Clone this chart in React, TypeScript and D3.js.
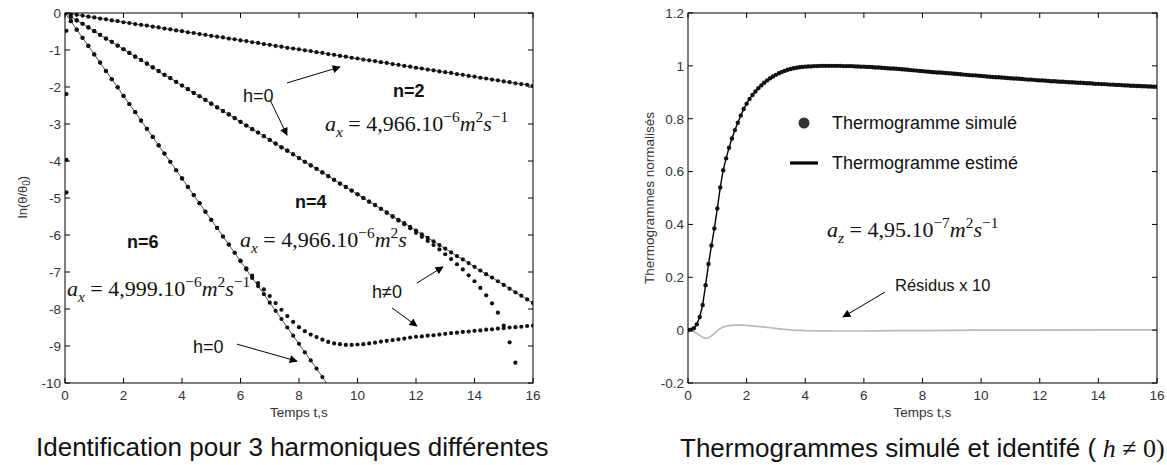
import React from 'react';
import * as d3 from 'd3';

// ---------- data ----------
const xTicks = [0, 2, 4, 6, 8, 10, 12, 14, 16];
const leftYTicks = [0, -1, -2, -3, -4, -5, -6, -7, -8, -9, -10];
const rightYTicks = [-0.2, 0, 0.2, 0.4, 0.6, 0.8, 1, 1.2];
const rightYTickLabels = ['-0.2', '0', '0.2', '0.4', '0.6', '0.8', '1', '1.2'];

// left chart sampling grid (s)
const leftTime = d3.range(0, 81).map((i) => i * 0.2);

// n=2, h=0
const n2h0 = [
  0, -0.02, -0.05, -0.07, -0.1, -0.12, -0.15, -0.17, -0.2, -0.22,
  -0.25, -0.27, -0.3, -0.32, -0.34, -0.37, -0.39, -0.42, -0.44, -0.47,
  -0.49, -0.52, -0.54, -0.57, -0.59, -0.62, -0.64, -0.66, -0.69, -0.71,
  -0.74, -0.76, -0.79, -0.81, -0.84, -0.86, -0.89, -0.91, -0.94, -0.96,
  -0.98, -1.01, -1.03, -1.06, -1.08, -1.11, -1.13, -1.16, -1.18, -1.21,
  -1.23, -1.26, -1.28, -1.3, -1.33, -1.35, -1.38, -1.4, -1.43, -1.45,
  -1.48, -1.5, -1.53, -1.55, -1.58, -1.6, -1.62, -1.65, -1.67, -1.7,
  -1.72, -1.75, -1.77, -1.8, -1.82, -1.85, -1.87, -1.9, -1.92, -1.94,
  -1.97,
];
// n=4, h=0
const n4h0 = [
  0, -0.1, -0.2, -0.29, -0.39, -0.49, -0.59, -0.69, -0.78, -0.88,
  -0.98, -1.08, -1.18, -1.27, -1.37, -1.47, -1.57, -1.67, -1.76, -1.86,
  -1.96, -2.06, -2.16, -2.25, -2.35, -2.45, -2.55, -2.65, -2.74, -2.84,
  -2.94, -3.04, -3.14, -3.23, -3.33, -3.43, -3.53, -3.63, -3.72, -3.82,
  -3.92, -4.02, -4.12, -4.21, -4.31, -4.41, -4.51, -4.61, -4.7, -4.8,
  -4.9, -5.0, -5.1, -5.19, -5.29, -5.39, -5.49, -5.59, -5.68, -5.78,
  -5.88, -5.98, -6.08, -6.17, -6.27, -6.37, -6.47, -6.57, -6.66, -6.76,
  -6.86, -6.96, -7.06, -7.15, -7.25, -7.35, -7.45, -7.55, -7.64, -7.74,
  -7.84,
];
// n=4, h≠0 (ends at 15.4 s)
const n4hN = [
  0, -0.1, -0.2, -0.29, -0.39, -0.49, -0.59, -0.69, -0.78, -0.88,
  -0.98, -1.08, -1.18, -1.27, -1.37, -1.47, -1.57, -1.67, -1.76, -1.86,
  -1.96, -2.06, -2.16, -2.25, -2.35, -2.45, -2.55, -2.65, -2.74, -2.84,
  -2.94, -3.04, -3.14, -3.23, -3.33, -3.43, -3.53, -3.63, -3.72, -3.82,
  -3.92, -4.02, -4.12, -4.21, -4.31, -4.41, -4.51, -4.61, -4.7, -4.8,
  -4.9, -5.0, -5.1, -5.19, -5.29,
  -5.4, -5.51, -5.61, -5.71, -5.82, -5.94, -6.05, -6.16, -6.27, -6.39,
  -6.52, -6.65, -6.79, -6.93, -7.09, -7.25, -7.43, -7.63, -7.85, -8.1,
  -8.45, -8.9, -9.45,
];
// n=6, h=0 (leaves the frame near 9 s)
const n6h0 = [
  0, -0.22, -0.45, -0.67, -0.89, -1.12, -1.34, -1.57, -1.79, -2.01,
  -2.24, -2.46, -2.68, -2.91, -3.13, -3.35, -3.58, -3.8, -4.02, -4.25,
  -4.47, -4.7, -4.92, -5.14, -5.37, -5.59, -5.81, -6.04, -6.26, -6.48,
  -6.71, -6.93, -7.16, -7.38, -7.6, -7.83, -8.05, -8.27, -8.5, -8.72,
  -8.94, -9.17, -9.39, -9.61, -9.84, -10.06,
];
// n=6, h≠0
const n6hN = [
  0, -0.22, -0.45, -0.67, -0.89, -1.12, -1.34, -1.57, -1.79, -2.01,
  -2.24, -2.46, -2.68, -2.91, -3.13, -3.35, -3.58, -3.8, -4.02, -4.25,
  -4.47, -4.7, -4.92, -5.14, -5.37, -5.59, -5.81, -6.04, -6.26, -6.48,
  -6.69, -6.9, -7.1, -7.3, -7.47, -7.65, -7.84, -8.02, -8.19, -8.35,
  -8.49, -8.6, -8.69, -8.76, -8.83, -8.89, -8.93, -8.95, -8.97, -8.97,
  -8.96, -8.95, -8.93, -8.91, -8.88, -8.86, -8.84, -8.82, -8.8, -8.77,
  -8.75, -8.74, -8.72, -8.71, -8.69, -8.67, -8.65, -8.64, -8.62, -8.61,
  -8.59, -8.58, -8.56, -8.55, -8.53, -8.52, -8.5, -8.49, -8.48, -8.46,
  -8.45,
];
// isolated first samples on the t=0 edge
const startTime = 0.05;
const startValues = [-0.48, -2.19, -3.97, -4.85];

// right chart sampling grid (s)
const simTime = d3.range(0, 161).map((i) => i * 0.1);
const simulated = [
  0, 0.002, 0.007, 0.022, 0.05, 0.095, 0.17, 0.25, 0.32, 0.385,
  0.46, 0.54, 0.605, 0.65, 0.69, 0.725, 0.757, 0.785, 0.812, 0.837,
  0.857, 0.875, 0.89, 0.903, 0.915, 0.926, 0.936, 0.945, 0.953, 0.96,
  0.966, 0.972, 0.977, 0.981, 0.985, 0.988, 0.991, 0.993, 0.995, 0.996,
  0.997, 0.998, 0.998, 0.999, 0.999, 1.0, 1.0, 1.0, 1.0, 1.0,
  1.0, 1.0, 1.0, 0.999, 0.999, 0.999, 0.999, 0.998, 0.998, 0.997,
  0.997, 0.996, 0.996, 0.995, 0.994, 0.994, 0.993, 0.992, 0.991, 0.99,
  0.99, 0.989, 0.988, 0.987, 0.986, 0.985, 0.984, 0.983, 0.982, 0.981,
  0.98, 0.979, 0.978, 0.977, 0.976, 0.975, 0.975, 0.974, 0.973, 0.972,
  0.971, 0.97, 0.969, 0.968, 0.967, 0.966, 0.965, 0.964, 0.964, 0.963,
  0.962, 0.961, 0.96, 0.959, 0.958, 0.957, 0.957, 0.956, 0.955, 0.954,
  0.953, 0.952, 0.952, 0.951, 0.95, 0.949, 0.948, 0.948, 0.947, 0.946,
  0.945, 0.945, 0.944, 0.943, 0.942, 0.942, 0.941, 0.94, 0.94, 0.939,
  0.938, 0.938, 0.937, 0.936, 0.936, 0.935, 0.934, 0.934, 0.933, 0.932,
  0.932, 0.931, 0.931, 0.93, 0.929, 0.929, 0.928, 0.928, 0.927, 0.926,
  0.926, 0.925, 0.925, 0.924, 0.924, 0.923, 0.923, 0.922, 0.922, 0.921,
  0.921,
];
const residTime = [0, 0.1, 0.2, 0.3, 0.4, 0.5, 0.6, 0.7, 0.8, 0.9, 1.0, 1.1, 1.2, 1.4, 1.6, 1.8, 2.0, 2.4, 2.8, 3.2, 3.6, 4, 5, 6, 7, 8, 9, 10, 12, 14, 16];
const residuals = [0, -0.002, -0.006, -0.012, -0.02, -0.027, -0.031, -0.029, -0.022, -0.012, -0.002, 0.006, 0.012, 0.017, 0.019, 0.019, 0.018, 0.014, 0.009, 0.004, 0, -0.002, -0.003, -0.003, -0.002, -0.002, -0.001, 0, 0, 0.001, 0.001];

// ---------- layout ----------
const W = 1167;
const H = 465;
const LB = { x0: 65, x1: 533, y0: 13, y1: 383 };
const RB = { x0: 688, x1: 1157, y0: 13, y1: 383 };
const SANS = "'Liberation Sans', Arial, Helvetica, sans-serif";
const SERIF = "'Liberation Serif', 'Times New Roman', Times, serif";
const TICK = 5;
const DOT_R = 2.1;

type Part = { t: string; it?: boolean; pos?: 'sub' | 'sup' };
function MathText({ x, y, parts, size = 22 }: { x: number; y: number; parts: Part[]; size?: number }) {
  let cur = 0;
  return (
    <text x={x} y={y} fontFamily={SERIF} fontSize={size} fill="#111" style={{ whiteSpace: 'pre' }}>
      {parts.map((p, i) => {
        const target = p.pos === 'sub' ? size * 0.28 : p.pos === 'sup' ? -size * 0.4 : 0;
        const dy = target - cur;
        cur = target;
        return (
          <tspan key={i} dy={dy} fontSize={p.pos ? size * 0.7 : size} fontStyle={p.it ? 'italic' : 'normal'}>
            {p.t}
          </tspan>
        );
      })}
    </text>
  );
}

function Frame({ b, xs, ys, yTicks, yLabels, xLabel }: any) {
  return (
    <g>
      <rect x={b.x0} y={b.y0} width={b.x1 - b.x0} height={b.y1 - b.y0} fill="none" stroke="#000" strokeWidth={1} />
      {xTicks.map((t) => (
        <g key={'x' + t}>
          <line x1={xs(t)} x2={xs(t)} y1={b.y1} y2={b.y1 - TICK} stroke="#000" />
          <line x1={xs(t)} x2={xs(t)} y1={b.y0} y2={b.y0 + TICK} stroke="#000" />
          <text x={xs(t)} y={b.y1 + 17} textAnchor="middle" fontFamily={SANS} fontSize={13.5} fill="#333">
            {String(t)}
          </text>
        </g>
      ))}
      {yTicks.map((t: number, i: number) => (
        <g key={'y' + i}>
          <line x1={b.x0} x2={b.x0 + TICK} y1={ys(t)} y2={ys(t)} stroke="#000" />
          <line x1={b.x1} x2={b.x1 - TICK} y1={ys(t)} y2={ys(t)} stroke="#000" />
          <text x={b.x0 - 4} y={ys(t)} dy="0.36em" textAnchor="end" fontFamily={SANS} fontSize={13.5} fill="#333">
            {yLabels[i]}
          </text>
        </g>
      ))}
      <text x={(b.x0 + b.x1) / 2} y={417} textAnchor="middle" fontFamily={SANS} fontSize={13.5} fill="#333">
        {xLabel}
      </text>
    </g>
  );
}

export default function App() {
  const lx = d3.scaleLinear().domain([0, 16]).range([LB.x0, LB.x1]);
  const ly = d3.scaleLinear().domain([-10, 0]).range([LB.y1, LB.y0]);
  const rx = d3.scaleLinear().domain([0, 16]).range([RB.x0, RB.x1]);
  const ry = d3.scaleLinear().domain([-0.2, 1.2]).range([RB.y1, RB.y0]);

  const lLine = (vals: number[]) =>
    d3.line<number>().x((_, i) => lx(leftTime[i])).y((v) => ly(v))(vals) as string;
  const simLine = d3.line<number>().x((_, i) => rx(simTime[i])).y((v) => ry(v))(simulated) as string;
  const resLine = d3.line<number>().x((_, i) => rx(residTime[i])).y((v) => ry(v))(residuals) as string;

  const dots = (vals: number[], key: string) =>
    vals.map((v, i) => <circle key={key + i} cx={lx(leftTime[i])} cy={ly(v)} r={DOT_R} fill="#111" />);

  const arrow = (x1: number, y1: number, x2: number, y2: number, k: string) => (
    <line key={k} x1={x1} y1={y1} x2={x2} y2={y2} stroke="#000" strokeWidth={1} markerEnd="url(#ah)" />
  );

  const leftLabels = leftYTicks.map((t) => String(t));

  return (
    <svg width={W} height={H} style={{ position: 'absolute', left: 0, top: 0, background: '#fff' }}>
      <defs>
        <marker id="ah" viewBox="0 0 10 10" refX={9} refY={5} markerWidth={10} markerHeight={8} markerUnits="userSpaceOnUse" orient="auto">
          <path d="M0,0 L10,5 L0,10 z" fill="#000" />
        </marker>
        <clipPath id="clipL">
          <rect x={LB.x0} y={LB.y0} width={LB.x1 - LB.x0} height={LB.y1 - LB.y0} />
        </clipPath>
        <clipPath id="clipR">
          <rect x={RB.x0} y={RB.y0} width={RB.x1 - RB.x0} height={RB.y1 - RB.y0} />
        </clipPath>
      </defs>

      {/* ---------- LEFT ---------- */}
      <g clipPath="url(#clipL)">
        <path d={lLine(n2h0)} fill="none" stroke="#555" strokeWidth={1} />
        <path d={lLine(n4h0)} fill="none" stroke="#555" strokeWidth={1} />
        <path d={lLine(n6h0)} fill="none" stroke="#555" strokeWidth={1} />
        {dots(n2h0, 'a')}
        {dots(n4h0, 'b')}
        {dots(n4hN, 'c')}
        {dots(n6h0, 'd')}
        {dots(n6hN, 'e')}
        {startValues.map((v, i) => (
          <circle key={'s' + i} cx={lx(startTime)} cy={ly(v)} r={DOT_R} fill="#111" />
        ))}
      </g>
      <Frame b={LB} xs={lx} ys={ly} yTicks={leftYTicks} yLabels={leftLabels} xLabel="Temps t,s" />
      <text transform="translate(27,197) rotate(-90)" textAnchor="middle" fontFamily={SANS} fontSize={13} fill="#333">
        ln(θ/θ<tspan dy={3} fontSize={10}>0</tspan><tspan dy={-3}>)</tspan>
      </text>

      <text x={243} y={102} fontFamily={SANS} fontSize={18} fill="#111">h=0</text>
      <text x={393} y={97} fontFamily={SANS} fontSize={18} fontWeight="bold" fill="#111">n=2</text>
      <text x={295} y={208} fontFamily={SANS} fontSize={18} fontWeight="bold" fill="#111">n=4</text>
      <text x={127} y={248} fontFamily={SANS} fontSize={18} fontWeight="bold" fill="#111">n=6</text>
      <text x={372} y={298} fontFamily={SANS} fontSize={18} fill="#111">h≠0</text>
      <text x={193} y={353} fontFamily={SANS} fontSize={18} fill="#111">h=0</text>

      <MathText x={325} y={131} parts={[{ t: 'a', it: true }, { t: 'x', it: true, pos: 'sub' }, { t: ' = 4,966.10' }, { t: '−6', pos: 'sup' }, { t: 'm', it: true }, { t: '2', pos: 'sup' }, { t: 's', it: true }, { t: '−1', pos: 'sup' }]} />
      <MathText x={240} y={247} parts={[{ t: 'a', it: true }, { t: 'x', it: true, pos: 'sub' }, { t: ' = 4,966.10' }, { t: '−6', pos: 'sup' }, { t: 'm', it: true }, { t: '2', pos: 'sup' }, { t: 's', it: true }]} />
      <MathText x={67} y={296} parts={[{ t: 'a', it: true }, { t: 'x', it: true, pos: 'sub' }, { t: ' = 4,999.10' }, { t: '−6', pos: 'sup' }, { t: 'm', it: true }, { t: '2', pos: 'sup' }, { t: 's', it: true }, { t: '−1', pos: 'sup' }]} />

      {arrow(lx(7.59), ly(-1.89), lx(9.4), ly(-1.46), 'a1')}
      {arrow(lx(7.01), ly(-2.35), lx(7.59), ly(-3.3), 'a2')}
      {arrow(lx(12.03), ly(-7.3), lx(12.92), ly(-6.86), 'a3')}
      {arrow(lx(11.18), ly(-7.97), lx(12.03), ly(-8.46), 'a4')}
      {arrow(lx(5.88), ly(-8.95), lx(7.93), ly(-9.41), 'a5')}

      <text x={36} y={456} fontFamily={SANS} fontSize={26} fill="#111">Identification pour 3 harmoniques différentes</text>

      {/* ---------- RIGHT ---------- */}
      <g clipPath="url(#clipR)">
        <path d={resLine} fill="none" stroke="#b8b8b8" strokeWidth={1.6} />
        <path d={simLine} fill="none" stroke="#000" strokeWidth={1.4} />
        {simulated.map((v, i) => (
          <circle key={'r' + i} cx={rx(simTime[i])} cy={ry(v)} r={2.2} fill="#111" />
        ))}
      </g>
      <Frame b={RB} xs={rx} ys={ry} yTicks={rightYTicks} yLabels={rightYTickLabels} xLabel="Temps t,s" />
      <text transform="translate(654,198) rotate(-90)" textAnchor="middle" fontFamily={SANS} fontSize={13.5} fill="#333">
        Thermogrammes normalisés
      </text>

      <circle cx={804} cy={123} r={5.5} fill="#333" />
      <text x={832} y={129} fontFamily={SANS} fontSize={18} fill="#111">Thermogramme simulé</text>
      <line x1={790} x2={818} y1={163} y2={163} stroke="#000" strokeWidth={3.2} />
      <text x={832} y={169} fontFamily={SANS} fontSize={18} fill="#111">Thermogramme estimé</text>

      <MathText x={827} y={237} parts={[{ t: 'a', it: true }, { t: 'z', it: true, pos: 'sub' }, { t: ' = 4,95.10' }, { t: '−7', pos: 'sup' }, { t: 'm', it: true }, { t: '2', pos: 'sup' }, { t: 's', it: true }, { t: '−1', pos: 'sup' }]} />

      <text x={895} y={291} fontFamily={SANS} fontSize={16.5} fill="#111">Résidus x 10</text>
      {arrow(rx(6.72), ry(0.144), rx(5.29), ry(0.05), 'a6')}

      <text x={680} y={457} fontFamily={SANS} fontSize={26} fill="#111" style={{ whiteSpace: 'pre' }}>
        Thermogrammes simulé et identifé (<tspan fontFamily={SERIF} fontStyle="italic"> h</tspan>
        <tspan fontFamily={SERIF}> ≠ 0)</tspan>
      </text>
    </svg>
  );
}
